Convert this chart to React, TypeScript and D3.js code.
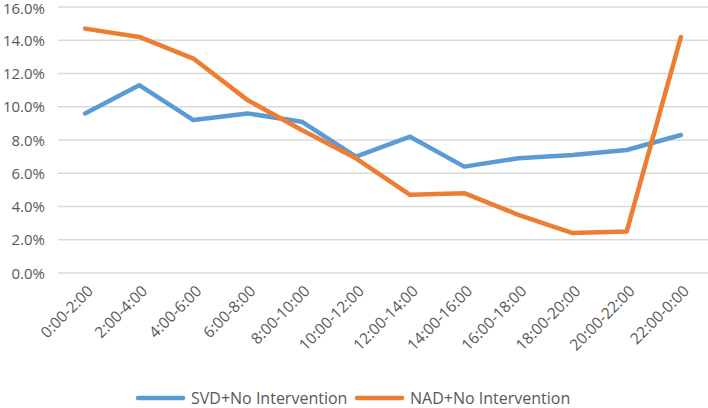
import * as React from 'react';
import * as d3 from 'd3';

const categories = ['0:00-2:00', '2:00-4:00', '4:00-6:00', '6:00-8:00', '8:00-10:00', '10:00-12:00',
  '12:00-14:00', '14:00-16:00', '16:00-18:00', '18:00-20:00', '20:00-22:00', '22:00-0:00'];
const svdValues = [9.6, 11.3, 9.2, 9.6, 9.1, 7.0, 8.2, 6.4, 6.9, 7.1, 7.4, 8.3];
const nadValues = [14.7, 14.2, 12.9, 10.4, 8.6, 6.9, 4.7, 4.8, 3.5, 2.4, 2.5, 14.2];
const yTicks = [0, 2, 4, 6, 8, 10, 12, 14, 16];
const seriesNames = ['SVD+No Intervention', 'NAD+No Intervention'];
const colors = ['#5B9BD5', '#ED7D31'];

const width = 708;
const height = 408;
const font = '"Open Sans", "Liberation Sans", sans-serif';

const App: React.FC = () => {
  const ref = React.useRef<SVGSVGElement>(null);

  React.useEffect(() => {
    const svg = d3.select(ref.current);
    svg.selectAll('*').remove();

    const x = d3.scaleBand().domain(categories).range([58, 708]);
    const y = d3.scaleLinear().domain([0, 16]).range([273, 7]);

    // grid + y labels
    svg.append('g').selectAll('line').data(yTicks).enter().append('line')
      .attr('x1', 58).attr('x2', 708)
      .attr('y1', d => y(d)).attr('y2', d => y(d))
      .attr('stroke', '#D9D9D9').attr('stroke-width', 1.5);

    svg.append('g').selectAll('text').data(yTicks).enter().append('text')
      .attr('x', 45).attr('y', d => Math.max(y(d) + 5.5, 14))
      .attr('text-anchor', 'end')
      .attr('font-family', font).attr('font-size', 15).attr('fill', '#595959')
      .text(d => d.toFixed(1) + '%');

    // x labels
    svg.append('g').selectAll('text').data(categories).enter().append('text')
      .attr('transform', d => `translate(${x(d)! + x.bandwidth() / 2 + 9},${292}) rotate(-45)`)
      .attr('text-anchor', 'end')
      .attr('font-family', font).attr('font-size', 15.5).attr('fill', '#595959')
      .text(d => d);

    const line = d3.line<number>()
      .x((d, i) => x(categories[i])! + x.bandwidth() / 2)
      .y(d => y(d));

    [svdValues, nadValues].forEach((vals, i) => {
      svg.append('path').datum(vals)
        .attr('d', line)
        .attr('fill', 'none')
        .attr('stroke', colors[i])
        .attr('stroke-width', 4.5)
        .attr('stroke-linejoin', 'round')
        .attr('stroke-linecap', 'round');
    });

    // legend
    const legendX = [138, 357];
    seriesNames.forEach((name, i) => {
      const g = svg.append('g').attr('transform', `translate(${legendX[i]},398)`);
      g.append('line').attr('x1', 0).attr('x2', 45).attr('y1', 0).attr('y2', 0)
        .attr('stroke', colors[i]).attr('stroke-width', 4.5).attr('stroke-linecap', 'round');
      g.append('text').attr('x', 53).attr('y', 5.5)
        .attr('font-family', font).attr('font-size', 16).attr('fill', '#595959')
        .text(name);
    });
  }, []);

  return (
    <svg ref={ref} width={width} height={height}
      style={{ position: 'absolute', left: 0, top: 0, background: '#fff' }} />
  );
};

export default App;
